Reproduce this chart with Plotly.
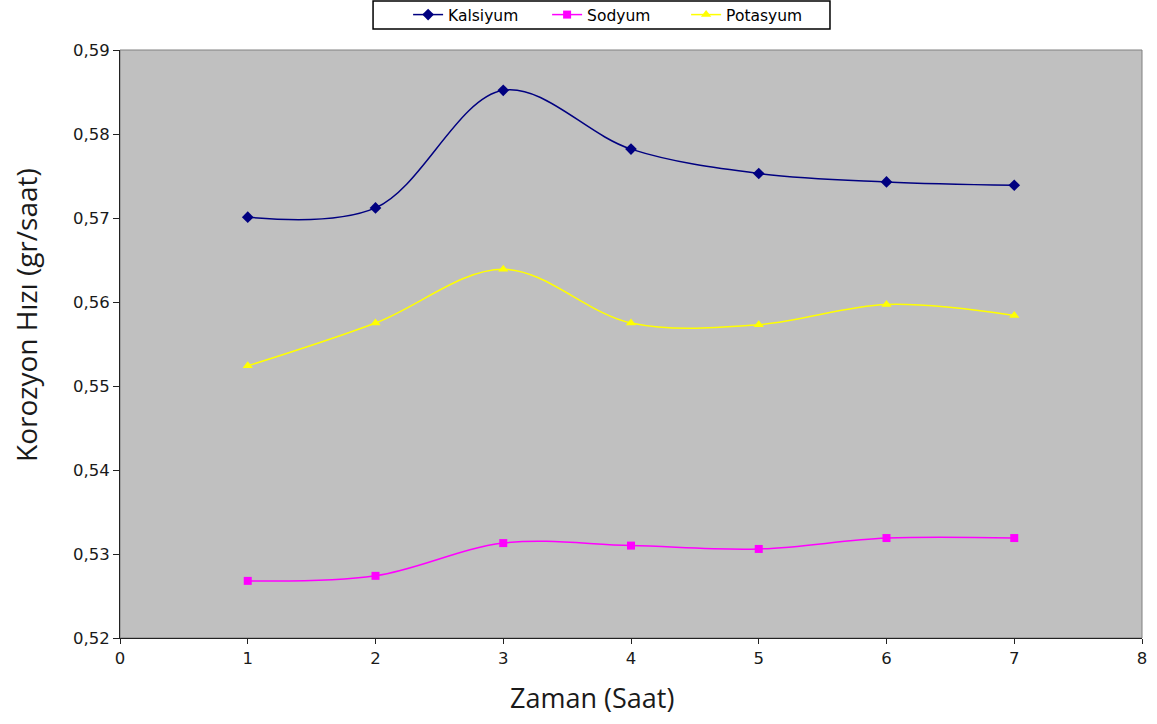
import plotly.graph_objects as go

zaman = [1, 2, 3, 4, 5, 6, 7]
kalsiyum = [0.5701, 0.5712, 0.5852, 0.5782, 0.5753, 0.5743, 0.5739]
sodyum = [0.5268, 0.5274, 0.5313, 0.5310, 0.5306, 0.5319, 0.5319]
potasyum = [0.5524, 0.5575, 0.5639, 0.5575, 0.5573, 0.5597, 0.5584]

x_ticks = [0, 1, 2, 3, 4, 5, 6, 7, 8]
y_ticks = [0.52, 0.53, 0.54, 0.55, 0.56, 0.57, 0.58, 0.59]

fig = go.Figure()
fig.add_trace(go.Scatter(x=zaman, y=kalsiyum, name="Kalsiyum", mode="lines+markers",
                         line=dict(color="#000080", width=1.5, shape="spline", smoothing=1),
                         marker=dict(symbol="diamond", size=9, color="#000080")))
fig.add_trace(go.Scatter(x=zaman, y=sodyum, name="Sodyum", mode="lines+markers",
                         line=dict(color="#FF00FF", width=1.5, shape="spline", smoothing=1),
                         marker=dict(symbol="square", size=8, color="#FF00FF")))
fig.add_trace(go.Scatter(x=zaman, y=potasyum, name="Potasyum", mode="lines+markers",
                         line=dict(color="#FFFF00", width=1.5, shape="spline", smoothing=1),
                         marker=dict(symbol="triangle-up", size=9, color="#FFFF00")))

tickfont = dict(family="DejaVu Sans", size=16.5, color="#1a1a1a")
fig.update_layout(
    width=1157, height=724,
    margin=dict(l=120, r=15, t=50, b=86, autoexpand=False),
    paper_bgcolor="white", plot_bgcolor="#C0C0C0",
    separators=",.",
    showlegend=True,
    legend=dict(orientation="h", x=0.2819, xanchor="left", y=1.0595, yanchor="middle",
                bgcolor="rgba(0,0,0,0)", borderwidth=0,
                font=dict(family="DejaVu Sans", size=15.5, color="black"),
                entrywidth=94, entrywidthmode="pixels",
                itemclick=False),
    xaxis=dict(range=[0, 8], tickvals=x_ticks, ticktext=[str(v) for v in x_ticks],
               showgrid=False, zeroline=False, showline=True, linecolor="#222222", linewidth=1,
               ticks="outside", ticklen=5, tickcolor="#222222", tickfont=tickfont),
    yaxis=dict(range=[0.52, 0.59], tickvals=y_ticks, tickformat=".2f",
               showgrid=False, zeroline=False, showline=True, linecolor="#222222", linewidth=1,
               ticks="outside", ticklen=6, tickcolor="#222222", tickfont=tickfont),
    annotations=[
        dict(text="Zaman (Saat)", xref="paper", yref="paper", x=0.4614, y=-0.102,
             xanchor="center", yanchor="middle", showarrow=False,
             font=dict(family="Open Sans", size=27, color="#1a1a1a")),
        dict(text="Korozyon Hızı (gr/saat)", xref="paper", yref="paper", x=-0.092, y=0.5493,
             xanchor="center", yanchor="middle", showarrow=False, textangle=-90,
             font=dict(family="Open Sans", size=28, color="#1a1a1a")),
    ],
)
fig.add_shape(type="rect", xref="paper", yref="paper", x0=0, y0=0, x1=1, y1=1,
              line=dict(color="#808080", width=1), layer="below")
fig.add_shape(type="rect", xref="paper", yref="paper", x0=0.2476, y0=1.0357, x1=0.6947, y1=1.0833,
              line=dict(color="black", width=1.5), fillcolor="white", layer="below")

# remove the browser's default 8px body margin so the figure fills the window from (0, 0)
fig.write_html("out.html", config={"displayModeBar": False},
               post_script="document.body.style.margin='0';")
